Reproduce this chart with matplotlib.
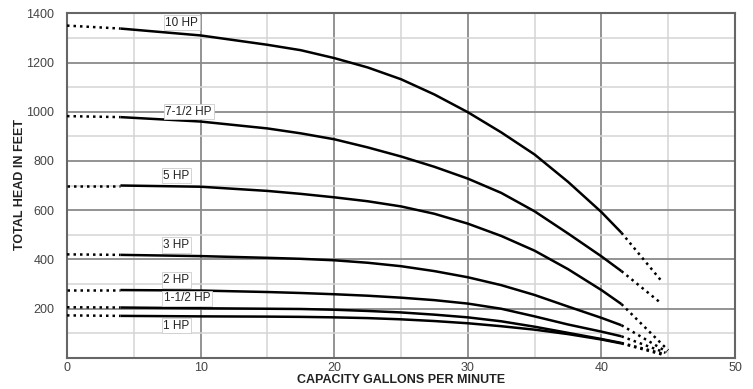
import matplotlib
matplotlib.use("Agg")
import matplotlib.pyplot as plt
from matplotlib.ticker import MultipleLocator
from matplotlib import font_manager

# ---------------- data ----------------
gpm_solid = [4, 10, 15, 17.5, 20, 22.5, 25, 27.5, 30, 32.5, 35, 37.5, 40, 41.5]

head_10hp  = [1338, 1310, 1272, 1250, 1218, 1180, 1132, 1070, 998, 916, 826, 715, 592, 508]
head_75hp  = [978, 960, 932, 912, 888, 855, 818, 776, 728, 670, 595, 505, 412, 352]
head_5hp   = [700, 695, 678, 666, 652, 636, 615, 585, 545, 495, 435, 360, 275, 218]
head_3hp   = [418, 413, 406, 402, 396, 386, 372, 352, 327, 295, 255, 208, 162, 132]
head_2hp   = [275, 273, 267, 263, 258, 252, 244, 234, 220, 199, 168, 135, 106, 87]
head_15hp  = [204, 201, 199, 198, 195, 190, 184, 175, 164, 148, 126, 101, 76, 60]
head_1hp   = [170, 168, 167, 166, 164, 161, 156, 149, 140, 128, 114, 96, 74, 58]

# shut-off head at 0 gpm (dotted start)
head_at_zero = [1350, 982, 700, 420, 275, 205, 172]
# dotted run-out end points
runout_gpm  = [44.6, 44.5, 45.0, 44.9, 44.8, 44.7, 44.6]
runout_head = [305, 220, 30, 24, 20, 15, 12]

labels   = ["10 HP", "7-1/2 HP", "5 HP", "3 HP", "2 HP", "1-1/2 HP", "1 HP"]
label_x  = [8.6, 9.1, 8.2, 8.2, 8.2, 9.0, 8.2]
label_y  = [1362, 1000, 740, 458, 316, 241, 130]

x_ticks = [0, 10, 20, 30, 40, 50]
y_ticks = [200, 400, 600, 800, 1000, 1200, 1400]

curves = [head_10hp, head_75hp, head_5hp, head_3hp, head_2hp, head_15hp, head_1hp]

# ---------------- fonts ----------------
avail = {f.name for f in font_manager.fontManager.ttflist}
base_font = "Liberation Sans" if "Liberation Sans" in avail else "DejaVu Sans"
plt.rcParams["font.family"] = [base_font, "DejaVu Sans"]

# ---------------- figure ----------------
fig = plt.figure(figsize=(7.53, 3.89), dpi=100)
ax = fig.add_axes([67 / 753, 1 - 357.7 / 389, (735 - 67) / 753, (357.7 - 13.3) / 389])

ax.set_xlim(0, 50)
ax.set_ylim(0, 1400)

# grid
ax.xaxis.set_major_locator(MultipleLocator(10))
ax.xaxis.set_minor_locator(MultipleLocator(5))
ax.yaxis.set_major_locator(MultipleLocator(200))
ax.yaxis.set_minor_locator(MultipleLocator(100))
ax.grid(which="minor", color="#d4d4d4", lw=1.1, zorder=0)
ax.grid(which="major", color="#8a8a8a", lw=1.3, zorder=0)
ax.set_axisbelow(True)

ax.set_xticks(x_ticks)
ax.set_yticks(y_ticks)
ax.tick_params(which="both", length=0)
ax.tick_params(axis="y", pad=9, labelsize=9, labelcolor="#444444")
ax.tick_params(axis="x", pad=3, labelsize=9, labelcolor="#444444")

for s in ax.spines.values():
    s.set_color("#666666")
    s.set_linewidth(1.5)

dot_style = (0, (1, 1.6))
for head, h0, rx, ry in zip(curves, head_at_zero, runout_gpm, runout_head):
    ax.plot(gpm_solid, head, color="black", lw=1.8, solid_capstyle="butt",
            solid_joinstyle="round", zorder=3)
    ax.plot([0, gpm_solid[0]], [h0, head[0]], color="black", lw=1.8,
            linestyle=dot_style, dash_capstyle="butt", zorder=3)
    ax.plot([gpm_solid[-1], rx], [head[-1], ry], color="black", lw=1.8,
            linestyle=dot_style, dash_capstyle="butt", zorder=3)

for txt, lx, ly in zip(labels, label_x, label_y):
    ax.text(lx, ly, txt, ha="center", va="center", fontsize=8.5, color="#222222",
            zorder=4,
            bbox=dict(boxstyle="square,pad=0.15", fc="white", ec="#cccccc", lw=0.6))

fig.text(401 / 753, 1 - 380 / 389, "CAPACITY GALLONS PER MINUTE", ha="center",
         va="center", fontsize=9, fontweight="bold", color="#222222")
fig.text(20 / 753, 1 - 185 / 389, "TOTAL HEAD IN FEET", ha="center", va="center",
         rotation=90, fontsize=9, fontweight="bold", color="#222222")

fig.savefig("out.png", dpi=100)
